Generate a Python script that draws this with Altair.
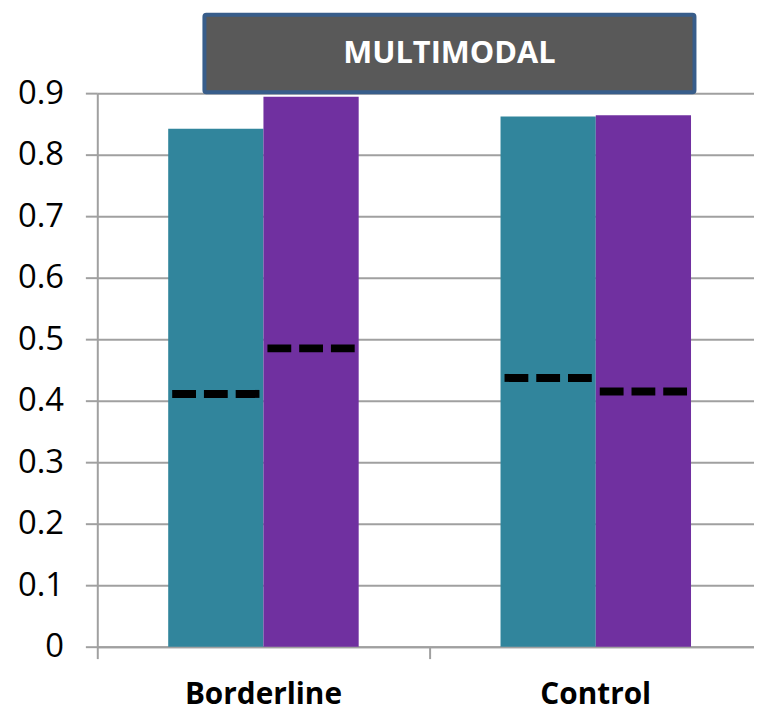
import altair as alt
import pandas as pd

# ---- data ----
categories = ["Borderline", "Control"]
series_names = ["Series 1", "Series 2"]
series_colors = ["#31859C", "#7030A0"]
bar_series1 = [0.842, 0.862]
bar_series2 = [0.894, 0.864]
dash_series1 = [0.411, 0.437]
dash_series2 = [0.485, 0.415]
y_ticks = [0, 0.1, 0.2, 0.3, 0.4, 0.5, 0.6, 0.7, 0.8, 0.9]
panel_title = "MULTIMODAL"

# ---- layout constants ----
W, H = 662, 558
BAND_PX = 335          # pixel width of one category band
X_MAX = W / BAND_PX    # visible part of the x domain (the plot runs past the picture edge)
BAR_FRAC = 0.2866      # bar width as a fraction of a category band
INSET = 0.012          # dash inset inside its bar (fraction of band)
GRID = "#A0A0A0"

rows = []
for i, cat in enumerate(categories):
    center = i + 0.5
    for j, (s, bars, dashes) in enumerate(
        [(series_names[0], bar_series1, dash_series1),
         (series_names[1], bar_series2, dash_series2)]
    ):
        x0 = center - BAR_FRAC if j == 0 else center
        x1 = center if j == 0 else center + BAR_FRAC
        rows.append({
            "category": cat, "series": s, "value": bars[i], "dash": dashes[i],
            "base": 0.0,
            "x0": x0, "x1": x1, "dx0": x0 + INSET, "dx1": x1 - INSET,
        })
df = pd.DataFrame(rows)
labels_df = pd.DataFrame({"category": categories,
                          "center": [i + 0.5 for i in range(len(categories))]})
title_df = pd.DataFrame({"t": [panel_title]})

xscale = alt.Scale(domain=[0, X_MAX], nice=False, zero=False)
yscale = alt.Scale(domain=[0, 0.9], nice=False)
color = alt.Color("series:N", scale=alt.Scale(domain=series_names, range=series_colors),
                  legend=None)

bars = alt.Chart(df).mark_rect(strokeWidth=0).encode(
    x=alt.X("x0:Q", scale=xscale,
            axis=alt.Axis(values=list(range(len(categories))), labels=False,
                          title=None, grid=False, tickSize=12, tickColor=GRID,
                          tickWidth=2, domainColor=GRID, domainWidth=2)),
    x2="x1:Q",
    y=alt.Y("value:Q", scale=yscale,
            axis=alt.Axis(values=y_ticks, format=".1~f", title=None, grid=True,
                          gridColor=GRID, gridWidth=2, tickSize=12, tickColor=GRID,
                          tickWidth=2, domainColor=GRID, domainWidth=2,
                          labelFont="Open Sans", labelFontSize=33,
                          labelColor="#000000", labelPadding=22)),
    y2="base:Q",
    color=color,
)

dashes = alt.Chart(df).mark_rule(color="black", strokeWidth=8,
                                 strokeDash=[24, 8], strokeCap="butt").encode(
    x=alt.X("dx0:Q", scale=xscale),
    x2="dx1:Q",
    y=alt.Y("dash:Q", scale=yscale),
)

cat_labels = alt.Chart(labels_df).mark_text(
    font="Open Sans", fontSize=30, fontWeight="bold", color="black",
    baseline="alphabetic", align="center",
).encode(
    x=alt.X("center:Q", scale=xscale),
    y=alt.value(616),
    text="category:N",
)

box = alt.Chart(title_df).mark_rect(
    fill="#595959", stroke="#385D8A", strokeWidth=4, cornerRadius=2
).encode(
    x=alt.value(108), x2=alt.value(602), y=alt.value(-79), y2=alt.value(-1)
)

box_text = alt.Chart(title_df).mark_text(
    font="Open Sans", fontSize=31, fontWeight="bold", color="white",
    baseline="middle", align="center",
).encode(x=alt.value(355), y=alt.value(-39), text="t:N")

chart = alt.layer(bars, dashes, cat_labels, box, box_text).properties(
    width=W, height=H,
    autosize=alt.AutoSizeParams(type="none"),
    padding={"left": 90, "top": 83, "right": 0, "bottom": 64},
).configure_view(stroke=None).configure(background="white")

chart.save("out.html", embed_options={"renderer": "svg", "actions": False})
